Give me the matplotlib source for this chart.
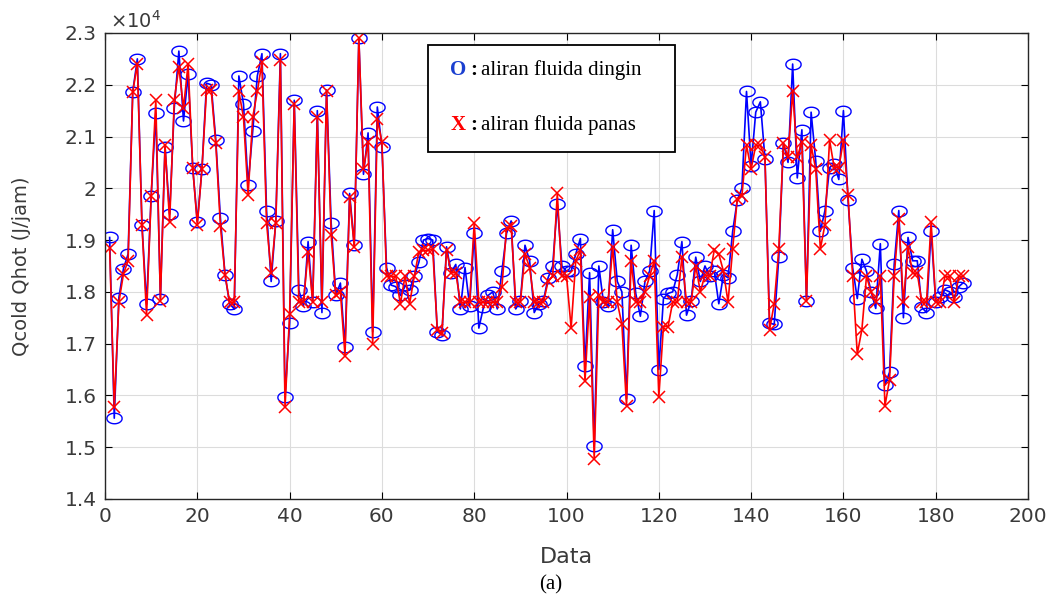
import numpy as np
import matplotlib.pyplot as plt
from matplotlib.path import Path
from matplotlib.ticker import FuncFormatter

# values in units of 1e4 J/jam
q_cold = [1.905, 1.556, 1.789, 1.845, 1.873, 2.186, 2.25, 1.93, 1.776, 1.985,
          2.145, 1.787, 2.08, 1.95, 2.155, 2.265, 2.13, 2.22, 2.04, 1.935,
          2.037, 2.203, 2.2, 2.093, 1.943, 1.833, 1.777, 1.767, 2.217, 2.163,
          2.007, 2.11, 2.217, 2.26, 1.957, 1.82, 1.937, 2.26, 1.597, 1.74,
          2.17, 1.803, 1.773, 1.897, 1.78, 2.15, 1.76, 2.19, 1.933, 1.793,
          1.817, 1.693, 1.99, 1.89, 2.29, 2.027, 2.107, 1.723, 2.157, 2.08,
          1.847, 1.813, 1.81, 1.793, 1.813, 1.803, 1.83, 1.857, 1.90, 1.903,
          1.90, 1.723, 1.717, 1.887, 1.837, 1.853, 1.767, 1.847, 1.773, 1.913,
          1.73, 1.77, 1.793, 1.80, 1.767, 1.84, 1.913, 1.937, 1.767, 1.783,
          1.89, 1.86, 1.76, 1.777, 1.783, 1.827, 1.85, 1.97, 1.85, 1.84,
          1.84, 1.873, 1.903, 1.657, 1.837, 1.503, 1.85, 1.78, 1.773, 1.92,
          1.82, 1.80, 1.593, 1.89, 1.797, 1.753, 1.82, 1.84, 1.957, 1.65,
          1.787, 1.797, 1.80, 1.833, 1.897, 1.755, 1.783, 1.867, 1.82, 1.85,
          1.83, 1.84, 1.777, 1.833, 1.827, 1.917, 1.977, 2.00, 2.187, 2.043,
          2.147, 2.167, 2.057, 1.74, 1.737, 1.867, 2.087, 2.05, 2.24, 2.02,
          2.113, 1.783, 2.147, 2.053, 1.917, 1.957, 2.04, 2.047, 2.017, 2.15,
          1.977, 1.847, 1.787, 1.863, 1.84, 1.80, 1.768, 1.893, 1.62, 1.645,
          1.853, 1.957, 1.75, 1.905, 1.86, 1.86, 1.77, 1.76, 1.918, 1.78,
          1.79, 1.804, 1.80, 1.79, 1.81, 1.818]

q_hot = [1.885, 1.578, 1.78, 1.835, 1.86, 2.186, 2.24, 1.93, 1.755, 1.985,
         2.17, 1.783, 2.083, 1.935, 2.17, 2.235, 2.155, 2.24, 2.04, 1.93,
         2.037, 2.19, 2.19, 2.087, 1.927, 1.833, 1.78, 1.78, 2.187, 2.137,
         1.987, 2.137, 2.187, 2.243, 1.933, 1.837, 1.933, 2.247, 1.577, 1.757,
         2.163, 1.78, 1.78, 1.877, 1.78, 2.137, 1.78, 2.187, 1.91, 1.793,
         1.80, 1.677, 1.983, 1.887, 2.29, 2.037, 2.09, 1.70, 2.133, 2.09,
         1.83, 1.83, 1.83, 1.777, 1.83, 1.777, 1.83, 1.877, 1.88, 1.88,
         1.883, 1.727, 1.72, 1.88, 1.837, 1.837, 1.78, 1.78, 1.78, 1.933,
         1.78, 1.78, 1.78, 1.78, 1.78, 1.81, 1.923, 1.927, 1.78, 1.78,
         1.873, 1.847, 1.78, 1.78, 1.78, 1.82, 1.83, 1.99, 1.83, 1.83,
         1.73, 1.86, 1.88, 1.627, 1.79, 1.477, 1.793, 1.78, 1.78, 1.887,
         1.78, 1.737, 1.58, 1.86, 1.78, 1.78, 1.80, 1.83, 1.86, 1.597,
         1.733, 1.733, 1.78, 1.78, 1.867, 1.78, 1.78, 1.85, 1.80, 1.833,
         1.83, 1.88, 1.873, 1.84, 1.78, 1.883, 1.98, 1.985, 2.083, 2.037,
         2.083, 2.083, 2.06, 1.727, 1.777, 1.883, 2.087, 2.06, 2.187, 2.06,
         2.09, 1.783, 2.083, 2.037, 1.883, 1.93, 2.093, 2.04, 2.04, 2.093,
         1.987, 1.83, 1.68, 1.727, 1.83, 1.80, 1.78, 1.83, 1.58, 1.63,
         1.83, 1.94, 1.78, 1.886, 1.836, 1.836, 1.78, 1.78, 1.935, 1.78,
         1.78, 1.83, 1.83, 1.78, 1.83, 1.83]

x_ticks = [0, 20, 40, 60, 80, 100, 120, 140, 160, 180, 200]
y_ticks = [1.4, 1.5, 1.6, 1.7, 1.8, 1.9, 2.0, 2.1, 2.2, 2.3]

n = np.arange(1, len(q_cold) + 1)
cold = np.array(q_cold) * 1e4
hot = np.array(q_hot) * 1e4

# the picture is stretched sideways, so the circles are ellipses
t = np.linspace(0, 2 * np.pi, 40)
ellipse = Path(np.column_stack([1.45 * np.cos(t), np.sin(t)]))

txt_col = '#3a3a3a'

fig = plt.figure(figsize=(10.62, 5.97), dpi=100)
ax = fig.add_axes([0.0989, 0.1642, 0.8691, 0.7806])

ax.plot(n, cold, color='#0000ff', lw=1.2, marker=ellipse, ms=11,
        mfc='none', mec='#0000ff', mew=1.0)
ax.plot(n, hot, color='#ff0000', lw=1.2, marker='x', ms=8, mew=1.1)

ax.set_xlim(0, 200)
ax.set_ylim(1.4e4, 2.3e4)
ax.set_xticks(x_ticks)
ax.set_yticks([v * 1e4 for v in y_ticks])
ax.yaxis.set_major_formatter(FuncFormatter(lambda v, p: '%g' % round(v / 1e4, 2)))
ax.grid(True, color='#dcdcdc', lw=0.8)
ax.set_axisbelow(True)
ax.tick_params(direction='in', top=True, right=True, length=5, width=0.8,
               labelsize=14.5, labelcolor=txt_col, pad=6)
for s in ax.spines.values():
    s.set_linewidth(1.0)
    s.set_color('#262626')

ax.text(0.005, 1.003, r'$\times 10^4$', transform=ax.transAxes, fontsize=14,
        color=txt_col, ha='left', va='bottom')

fig.text(0.533, 0.067, 'Data', fontsize=16, color=txt_col, ha='center', va='center')
fig.text(0.02, 0.554, 'Qcold Qhot (J/jam)', fontsize=14, color=txt_col,
         rotation=90, ha='center', va='center')
fig.text(0.519, 0.02, '(a)', fontsize=15, family='Liberation Serif',
         ha='center', va='center')

# legend box drawn as text, like in the reference
box = plt.Rectangle((0.35, 0.745), 0.2675, 0.229, transform=ax.transAxes,
                    fill=True, fc='white', ec='black', lw=1.3, zorder=5)
ax.add_patch(box)
ser = 'Liberation Serif'
ax.text(0.374, 0.92, 'O', transform=ax.transAxes, fontsize=15, family=ser,
        weight='bold', color='#1a3fd0', va='center', zorder=6)
ax.text(0.396, 0.92, ':', transform=ax.transAxes, fontsize=15, family=ser,
        weight='bold', va='center', zorder=6)
ax.text(0.407, 0.92, 'aliran fluida dingin', transform=ax.transAxes, fontsize=15,
        family=ser, va='center', zorder=6)
ax.text(0.374, 0.803, 'X', transform=ax.transAxes, fontsize=15, family=ser,
        weight='bold', color='#ff0000', va='center', zorder=6)
ax.text(0.396, 0.803, ':', transform=ax.transAxes, fontsize=15, family=ser,
        weight='bold', va='center', zorder=6)
ax.text(0.407, 0.803, 'aliran fluida panas', transform=ax.transAxes, fontsize=15,
        family=ser, va='center', zorder=6)

fig.savefig('out.png', dpi=100)
